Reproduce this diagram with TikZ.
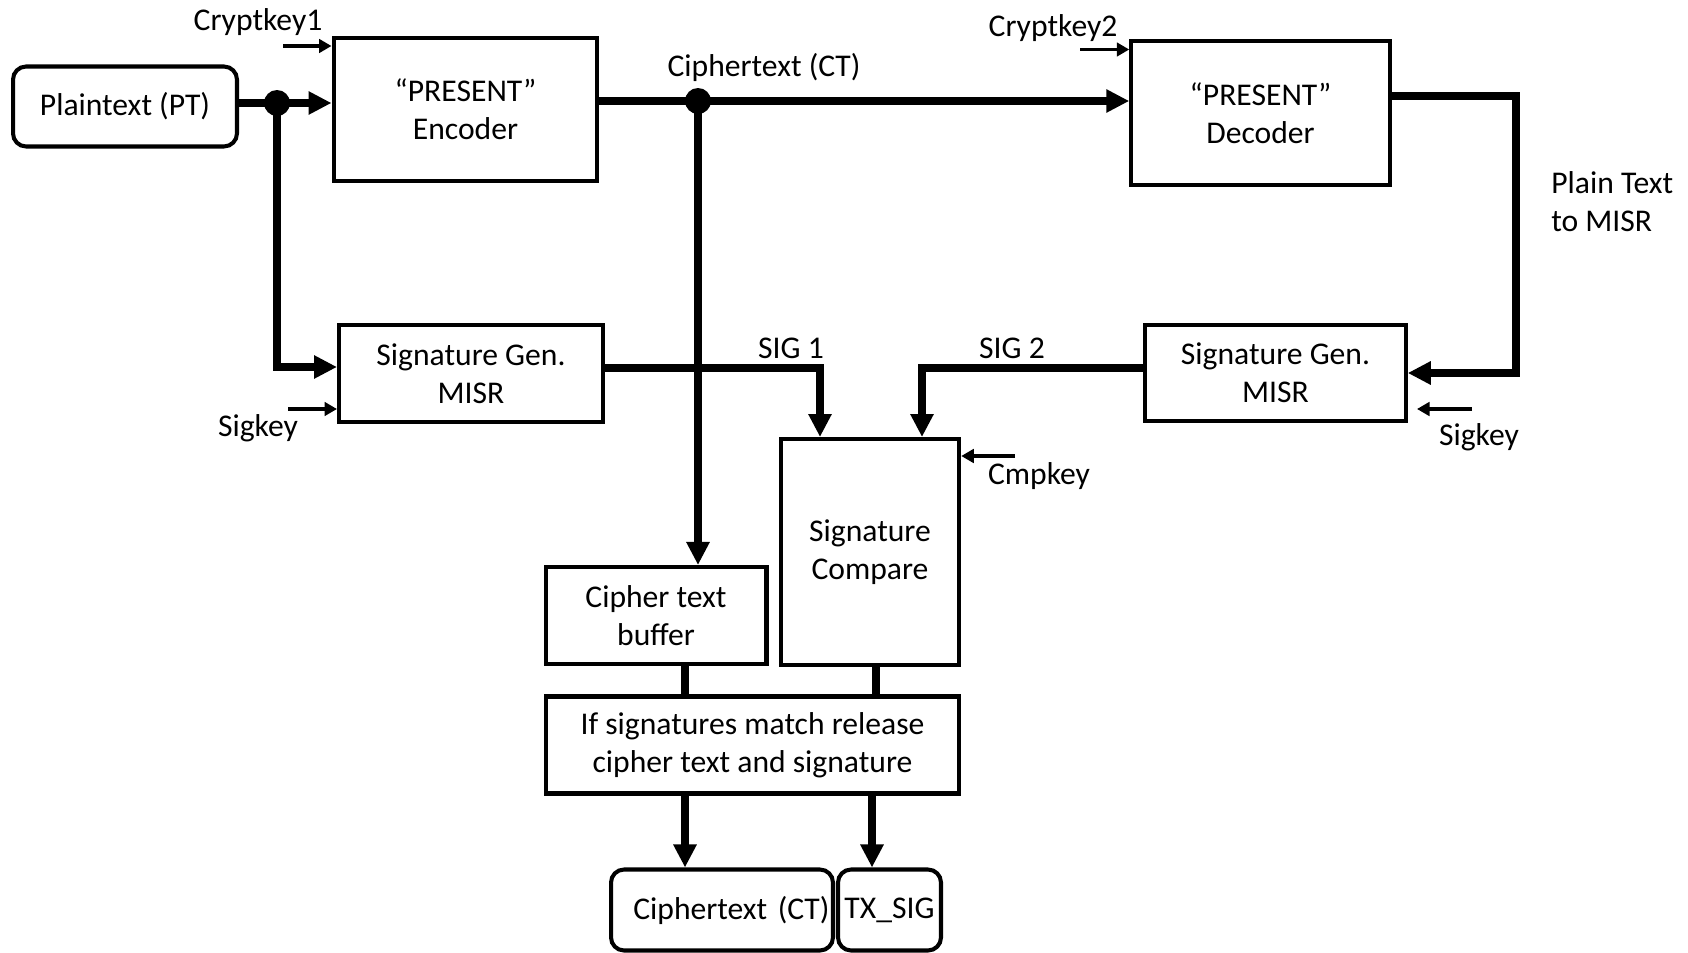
\documentclass[tikz,border=0pt]{standalone}
\usepackage{fontspec}
\setmainfont{Carlito}
\usetikzlibrary{arrows.meta,calc}
\tikzset{
  box/.style={draw, line width=2.3pt, inner sep=0pt, align=center, font=\fontsize{18}{21.5}\selectfont},
  rbox/.style={box, rounded corners=0.26cm},
  bus/.style={line width=4.2pt},
  busarrow/.style={bus, -{Triangle[length=0.46cm, width=0.44cm]}},
  keyarrow/.style={line width=1.8pt, -{Triangle[length=0.25cm, width=0.27cm]}},
  lbl/.style={inner sep=0pt, font=\fontsize{18}{21.5}\selectfont},
  dot/.style={circle, fill, inner sep=0pt, minimum size=0.52cm},
}
\begin{document}
\begin{tikzpicture}[x=0.02cm, y=-0.02cm]
\useasboundingbox (0,0) rectangle (1688,953);

% blocks
\node[rbox, minimum width=4.48cm, minimum height=1.6cm] (pt) at (125,106.5) {Plaintext (PT)};
\node[box, minimum width=5.28cm, minimum height=2.86cm] (enc) at (465.5,109.3) {“PRESENT”\\Encoder};
\node[box, minimum width=5.17cm, minimum height=2.88cm] (dec) at (1260.5,113) {“PRESENT”\\Decoder};
\node[box, minimum width=5.28cm, minimum height=1.94cm] (sgl) at (471,373.5) {Signature Gen.\\MISR};
\node[box, minimum width=5.21cm, minimum height=1.92cm] (sgr) at (1275.5,373) {Signature Gen.\\MISR};
\node[box, minimum width=3.57cm, minimum height=4.52cm] (cmp) at (870,552) {Signature\\Compare};
\node[box, minimum width=4.42cm, minimum height=1.94cm] (buf) at (656,615.5) {Cipher text\\buffer};
\node[box, minimum width=8.26cm, minimum height=1.94cm] (rel) at (752.5,745) {If signatures match release\\cipher text and signature};
\node[rbox, minimum width=4.44cm, minimum height=1.62cm, text width=4.3cm, align=right] (ctout) at (722,910) {Ciphertext (CT)};
\node[rbox, minimum width=2.06cm, minimum height=1.62cm] (txsig) at (889.5,910) {TX\_SIG};

% branch points and corners
\coordinate (lb) at (277,367);
\coordinate (decout) at (1516,96);
\coordinate (sig1c) at (820,368);
\coordinate (sig2c) at (922,368);
\coordinate (bx) at (685,0);
\coordinate (cx) at (876,0);
\coordinate (ox) at (872,0);
\node[dot] (ptdot) at (277,103) {};
\node[dot] (ctdot) at (698,101) {};

% data paths
\draw[busarrow] (pt.east |- ptdot) -- (enc.west |- ptdot);
\draw[busarrow] (ptdot.center) -- (lb) -- (sgl.west |- lb);
\draw[busarrow] (enc.east |- ctdot) -- (dec.west |- ctdot);
\draw[busarrow] (ctdot.center) -- (buf.north -| ctdot);
\draw[busarrow] (dec.east |- decout) -- (decout) |- (sgr.east);
\draw[busarrow] (sgl.east |- sig1c) -- (sig1c) -- (cmp.north -| sig1c);
\draw[busarrow] (sgr.west |- sig2c) -- (sig2c) -- (cmp.north -| sig2c);
\draw[bus] (buf.south -| bx) -- (rel.north -| bx);
\draw[bus] (cmp.south -| cx) -- (rel.north -| cx);
\draw[busarrow] (rel.south -| bx) -- (ctout.north -| bx);
\draw[busarrow] (rel.south -| ox) -- (txsig.north -| ox);

% key inputs
\coordinate (ck1) at (283,46);
\coordinate (skl) at (288,409);
\coordinate (ck2) at (1080,49.5);
\coordinate (skr) at (1472,409);
\coordinate (skrend) at (1417,409);
\coordinate (cmk) at (1015,456);
\draw[keyarrow] (ck1) -- (enc.west |- ck1);
\draw[keyarrow] (skl) -- (sgl.west |- skl);
\draw[keyarrow] (ck2) -- (dec.west |- ck2);
\draw[keyarrow] (skr) -- (skrend);
\draw[keyarrow] (cmk) -- (cmp.east |- cmk);

% labels
\node[lbl] (lck1) at (258,22) {Cryptkey1};
\node[lbl] (lskl) at (258,428) {Sigkey};
\node[lbl] (lct) at (764,67) {Ciphertext (CT)};
\node[lbl] (lck2) at (1053,28) {Cryptkey2};
\node[lbl, anchor=west, align=left] (lpt) at (1551,202) {Plain Text\\to MISR};
\node[lbl] (lskr) at (1479,437) {Sigkey};
\node[lbl] (ls1) at (791,348) {SIG 1};
\node[lbl] (ls2) at (1012,348) {SIG 2};
\node[lbl] (lcmk) at (1039,476) {Cmpkey};
\end{tikzpicture}
\end{document}
